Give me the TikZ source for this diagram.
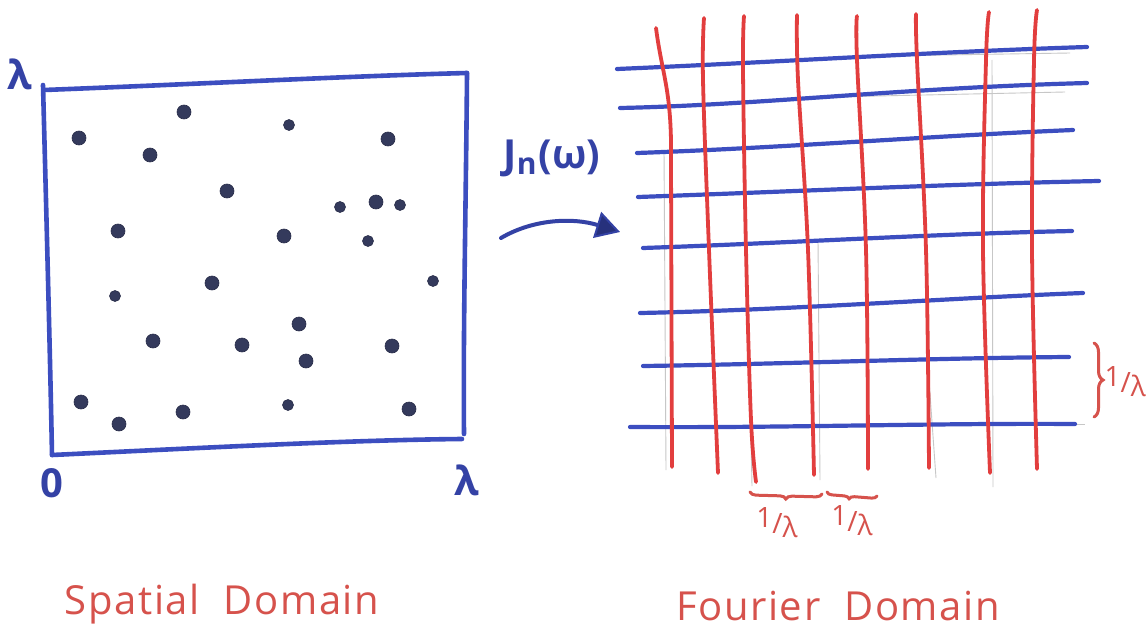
\documentclass[tikz,border=0pt]{standalone}
\usepackage{fontspec}
\setmainfont{Open Sans}
\usetikzlibrary{decorations.pathreplacing,arrows.meta}
\definecolor{penblue}{RGB}{60,78,192}
\definecolor{inkblue}{RGB}{52,66,165}
\definecolor{penred}{RGB}{226,62,62}
\definecolor{labred}{RGB}{214,82,76}
\definecolor{dotc}{RGB}{52,58,92}
\tikzset{
  boxline/.style={penblue, line width=4.6pt, line cap=round, line join=round},
  hline/.style={penblue, line width=4.2pt, line cap=round},
  vline/.style={penred, line width=3.8pt, line cap=round},
  pencil/.style={black!22, line width=0.9pt},
  dot/.style={circle, fill=dotc, draw=dotc!80!black, line width=0.6pt, inner sep=0pt, minimum size=14pt},
  sdot/.style={dot, minimum size=11pt},
  bluelab/.style={inkblue, font=\fontsize{40}{44}\selectfont\bfseries, inner sep=0pt},
  redlab/.style={labred, font=\fontsize{40}{46}\selectfont\addfontfeature{LetterSpace=4}, inner sep=0pt},
  fraclab/.style={labred, font=\fontsize{28}{30}\selectfont, inner sep=0pt},
  bracestyle/.style={labred, line width=3pt, line cap=round, decorate},
}
\newcommand{\invlam}{\raisebox{0.35ex}{1}/\raisebox{-0.3ex}{λ}}
\begin{document}
\begin{tikzpicture}[x=1pt,y=-1pt]
\useasboundingbox[fill=white] (0,0) rectangle (1148,642);

% ---------- spatial domain box ----------
\coordinate (tl) at (43,85);
\coordinate (tl2) at (44,90);
\coordinate (tr) at (467,73);
\coordinate (br) at (464,434);
\coordinate (br2) at (462,439);
\coordinate (bl) at (52,455);
\draw[boxline] (tl) .. controls (46,200) and (50,350) .. (bl);
\draw[boxline] (tl2) .. controls (200,84) and (350,76) .. (tr);
\draw[boxline] (tr) .. controls (466,200) and (463,330) .. (br);
\draw[boxline] (bl) .. controls (200,448) and (350,440) .. (br2);

\node[bluelab] (lamTL) at (20,74) {λ};
\node[bluelab] (zero) at (52,483) {0};
\node[bluelab] (lamBR) at (467,480) {λ};

% dots
\node[dot] (d1) at (79,138) {};
\node[dot] (d2) at (184,112) {};
\node[sdot] (d3) at (289,125) {};
\node[dot] (d4) at (388,139) {};
\node[dot] (d5) at (150,155) {};
\node[dot] (d6) at (227,191) {};
\node[sdot] (d7) at (340,207) {};
\node[dot] (d8) at (376,202) {};
\node[sdot] (d9) at (400,205) {};
\node[dot] (d10) at (118,231) {};
\node[dot] (d11) at (284,236) {};
\node[sdot] (d12) at (368,241) {};
\node[dot] (d13) at (212,283) {};
\node[sdot] (d14) at (115,296) {};
\node[sdot] (d15) at (433,281) {};
\node[dot] (d16) at (299,324) {};
\node[dot] (d17) at (153,341) {};
\node[dot] (d18) at (242,345) {};
\node[dot] (d19) at (392,346) {};
\node[dot] (d20) at (306,361) {};
\node[dot] (d21) at (81,402) {};
\node[dot] (d22) at (119,424) {};
\node[dot] (d23) at (183,412) {};
\node[sdot] (d24) at (288,405) {};
\node[dot] (d25) at (409,409) {};

% ---------- transform arrow ----------
\node[bluelab] (jn) at (552,158) {J\raisebox{-0.3ex}{\fontsize{30}{32}\selectfont n}\kern0.05em(ω)};
\coordinate (arrS) at (501,238);
\coordinate (arrE) at (620,232);
\draw[inkblue, line width=4pt, line cap=round, -{Triangle[length=24pt,width=27pt,open,fill=inkblue!75!black,line width=2pt]}]
  (arrS) .. controls (535,218) and (575,218) .. (arrE);

% ---------- fourier domain grid ----------
% pencil guide lines
\draw[pencil] (818,240) -- (820,480);
\draw[pencil] (992,60) -- (993,487);
\draw[pencil] (748,300) -- (752,486);
\draw[pencil] (664,150) -- (666,470);
\draw[pencil] (929,380) -- (936,478);
\draw[pencil] (880,56) -- (1070,53);
\draw[pencil] (830,97) -- (1065,92);
\draw[pencil] (1050,424) -- (1085,424);

% blue horizontals
\coordinate (h1a) at (617,69);  \coordinate (h1b) at (1087,47);
\coordinate (h2a) at (620,108); \coordinate (h2b) at (1087,83);
\coordinate (h3a) at (637,153); \coordinate (h3b) at (1073,130);
\coordinate (h4a) at (638,197); \coordinate (h4b) at (1099,181);
\coordinate (h5a) at (643,248); \coordinate (h5b) at (1072,231);
\coordinate (h6a) at (640,313); \coordinate (h6b) at (1083,293);
\coordinate (h7a) at (643,366); \coordinate (h7b) at (1069,357);
\coordinate (h8a) at (630,427); \coordinate (h8b) at (1075,424);
\draw[hline] (h1a) .. controls (780,62) and (930,52) .. (h1b);
\draw[hline] (h2a) .. controls (760,105) and (900,88) .. (h2b);
\draw[hline] (h3a) .. controls (780,148) and (930,136) .. (h3b);
\draw[hline] (h4a) .. controls (780,192) and (950,184) .. (h4b);
\draw[hline] (h5a) .. controls (790,243) and (930,234) .. (h5b);
\draw[hline] (h6a) .. controls (790,310) and (950,298) .. (h6b);
\draw[hline] (h7a) .. controls (790,364) and (930,358) .. (h7b);
\draw[hline] (h8a) .. controls (790,428) and (930,423) .. (h8b);

% red verticals
\draw[vline] (656,28) .. controls (662,75) and (672,90) .. (671,160) -- (672,467);
\draw[vline] plot[smooth, tension=0.6] coordinates {(704,18) (703,80) (709,250) (718,473)};
\draw[vline] plot[smooth, tension=0.6] coordinates {(744,16) (743,70) (746,250) (751,420) (756,482)};
\draw[vline] plot[smooth, tension=0.6] coordinates {(797,15) (798,80) (808,250) (814,475)};
\draw[vline] plot[smooth, tension=0.6] coordinates {(857,16) (857,60) (866,250) (868,469)};
\draw[vline] plot[smooth, tension=0.6] coordinates {(916,14) (917,60) (926,250) (929,468)};
\draw[vline] plot[smooth, tension=0.6] coordinates {(989,12) (986,60) (983,250) (990,473)};
\draw[vline] plot[smooth, tension=0.6] coordinates {(1037,10) (1034,60) (1032,250) (1037,469)};

% spacing braces and labels
\coordinate (b1a) at (750,492);
\coordinate (b1b) at (822,494);
\coordinate (b2a) at (827,492);
\coordinate (b2b) at (877,496);
\coordinate (b3a) at (1094,343);
\coordinate (b3b) at (1094,417);
\draw[bracestyle, decoration={brace, mirror, amplitude=6pt, aspect=0.5}] (b1a) -- (b1b);
\draw[bracestyle, decoration={brace, mirror, amplitude=5pt, aspect=0.45}] (b2a) -- (b2b);
\draw[bracestyle, decoration={brace, amplitude=9pt, aspect=0.5}] (b3a) -- (b3b);
\node[fraclab] (f1) at (777,523) {\invlam};
\node[fraclab] (f2) at (852,521) {\invlam};
\node[fraclab, anchor=east] (f3) at (1146,382) {\invlam};

% ---------- captions ----------
\node[redlab] (spat) at (222,604) {Spatial\ \ Domain};
\node[redlab] (four) at (838,606) {Fourier\ \ Domain};
\end{tikzpicture}
\end{document}
